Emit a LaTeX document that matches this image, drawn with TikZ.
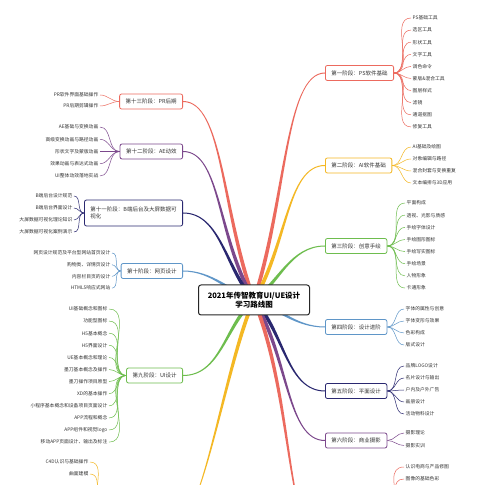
\documentclass[tikz,border=0pt]{standalone}
\usepackage{fontspec}
\setmainfont{Noto Sans CJK SC}
\usepackage{tikz}
\usetikzlibrary{backgrounds}
\definecolor{lxred}{RGB}{236,106,94}
\definecolor{lxyellow}{RGB}{244,184,36}
\definecolor{lxgreen}{RGB}{110,189,78}
\definecolor{lxblue}{RGB}{95,150,200}
\definecolor{lxnavy}{RGB}{42,40,112}
\definecolor{lxpurple}{RGB}{124,72,140}
\tikzset{
  stage/.style={draw, line width=0.8pt, rounded corners=2pt, fill=white, text=black!80,
    font=\fontsize{5.5}{6.8}\selectfont, inner xsep=6pt, minimum height=15pt},
  ritem/.style={anchor=west, inner sep=1.5pt, text=black!80, font=\fontsize{4.8}{5.2}\selectfont},
  litem/.style={ritem, anchor=east},
  sub/.style={line width=0.5pt}
}
% tapered main branch: colour, out angle, out distance, target, in angle, in distance
\newcommand{\mainline}[6]{%
  \fill[#1] ([shift={(#2+90:1.9pt)}]ctr.center)
    to[out=#2, in=#5, out distance=#3, in distance=#6] ([shift={(#5-90:0.5pt)}]#4)
    -- ([shift={(#5+90:0.5pt)}]#4)
    to[out=#5, in=#2, out distance=#6, in distance=#3] ([shift={(#2-90:1.9pt)}]ctr.center) -- cycle;}

\begin{document}
\begin{tikzpicture}[x=1pt, y=1pt]
\useasboundingbox (0,0) rectangle (500,484);
\clip (0,0) rectangle (500,484);

% centre topic
\node[draw=black!85, line width=1pt, rounded corners=2.5pt, fill=white, minimum width=111pt,
  minimum height=30pt, align=center, font=\fontsize{7.5}{9.5}\selectfont\bfseries] (ctr) at (254,184)
  {2021年传智教育UI/UE设计\\学习路线图};

% right stages
\node[stage, draw=lxred, anchor=west] (s1) at (325,411) {第一阶段：PS软件基础};
\node[stage, draw=lxyellow, anchor=west] (s2) at (325,318.5) {第二阶段：AI软件基础};
\node[stage, draw=lxgreen, anchor=west] (s3) at (325,238) {第三阶段：创意手绘};
\node[stage, draw=lxblue, anchor=west] (s4) at (325,157) {第四阶段：设计进阶};
\node[stage, draw=lxnavy, anchor=west] (s5) at (325,93) {第五阶段：平面设计};
\node[stage, draw=lxpurple, anchor=west] (s6) at (325,43.5) {第六阶段：商业摄影};
\coordinate (s7w) at (325,-61);
\coordinate (s7e) at (394,-61);

% left stages
\node[stage, draw=lxred, anchor=east] (s13) at (183,382.5) {第十三阶段：PR后期};
\node[stage, draw=lxpurple, anchor=east] (s12) at (183,332.5) {第十二阶段：AE动效};
\node[stage, draw=lxnavy, anchor=east, align=left, minimum height=26pt] (s11) at (183,271)
  {第十一阶段：B端后台及大屏数据可\\视化};
\node[stage, draw=lxblue, anchor=east] (s10) at (183,213) {第十阶段：网页设计};
\node[stage, draw=lxgreen, anchor=east] (s9) at (183,108.5) {第九阶段：UI设计};
\coordinate (s8e) at (183,-30);
\coordinate (s8w) at (104,-30);

% main branches
\begin{scope}[on background layer]
\fill[white] (0,0) rectangle (500,484);
\mainline{lxred}{72}{105pt}{s1.west}{180}{40pt}
\mainline{lxyellow}{59}{65pt}{s2.west}{180}{38pt}
\mainline{lxgreen}{34}{30pt}{s3.west}{180}{35pt}
\mainline{lxblue}{-18}{25pt}{s4.west}{180}{30pt}
\mainline{lxnavy}{-47}{45pt}{s5.west}{180}{38pt}
\mainline{lxpurple}{-59}{68pt}{s6.west}{180}{38pt}
\mainline{lxred}{-68}{110pt}{s7w}{180}{40pt}
\mainline{lxred}{110}{95pt}{s13.east}{0}{40pt}
\mainline{lxpurple}{121}{72pt}{s12.east}{0}{38pt}
\mainline{lxnavy}{133}{42pt}{s11.east}{0}{38pt}
\mainline{lxblue}{163}{25pt}{s10.east}{0}{30pt}
\mainline{lxgreen}{-139}{38pt}{s9.east}{0}{38pt}
\mainline{lxyellow}{-115}{60pt}{s8e}{0}{20pt}
\end{scope}

% right items
\foreach \lbl [count=\k] in {PS基础工具,选区工具,形状工具,文字工具,调色命令,蒙版\&混合工具,图层样式,滤镜,通道抠图,修复工具}{
  \node[ritem] (s1-\k) at (411,{478.1-12.1*\k}) {\lbl};
  \draw[sub, lxred] (s1.east) to[out=0,in=180] (s1-\k.west);
}
\foreach \lbl [count=\k] in {AI基础及绘图,对象编辑与路径,混合封套与变换重复,文本编排与3D应用}{
  \node[ritem] (s2-\k) at (411,{349-12*\k}) {\lbl};
  \draw[sub, lxyellow] (s2.east) to[out=0,in=180] (s2-\k.west);
}
\foreach \lbl [count=\k] in {平面构成,透视、光影与质感,手绘字体设计,手绘图形图标,手绘写实图标,手绘场景,人物形象,卡通形象}{
  \node[ritem] (s3-\k) at (405,{293.1-12.14*\k}) {\lbl};
  \draw[sub, lxgreen] (s3.east) to[out=0,in=180] (s3-\k.west);
}
\foreach \lbl [count=\k] in {字体的属性与创意,字体变形与效果,色彩构成,版式设计}{
  \node[ritem] (s4-\k) at (404,{187-12*\k}) {\lbl};
  \draw[sub, lxblue] (s4.east) to[out=0,in=180] (s4-\k.west);
}
\foreach \lbl [count=\k] in {品牌LOGO设计,名片设计与输出,户内及户外广告,画册设计,活动物料设计}{
  \node[ritem] (s5-\k) at (404,{130-12*\k}) {\lbl};
  \draw[sub, lxnavy] (s5.east) to[out=0,in=180] (s5-\k.west);
}
\foreach \lbl [count=\k] in {摄影理论,摄影实训}{
  \node[ritem] (s6-\k) at (404,{63.5-12.5*\k}) {\lbl};
  \draw[sub, lxpurple] (s6.east) to[out=0,in=180] (s6-\k.west);
}
\foreach \lbl [count=\k] in {认识电商与产品修图,图像的基础色彩}{
  \node[ritem] (s7-\k) at (404,{29-12*\k}) {\lbl};
  \draw[sub, lxred] (s7e) to[out=0,in=180] (s7-\k.west);
}

% left items
\foreach \lbl [count=\k] in {PR软件界面基础操作,PR后期剪辑操作}{
  \node[litem] (s13-\k) at (100,{400-11*\k}) {\lbl};
  \draw[sub, lxred] (s13.west) to[out=180,in=0] (s13-\k.east);
}
\foreach \lbl [count=\k] in {AE基础与变换动画,高级变换动画与路径动画,形状文字及蒙版动画,效果动画与表达式动画,UI整体动效落地实战}{
  \node[litem] (s12-\k) at (100,{369.1-12.2*\k}) {\lbl};
  \draw[sub, lxpurple] (s12.west) to[out=180,in=0] (s12-\k.east);
}
\foreach \lbl [count=\k] in {B端后台设计规范,B端后台界面设计,大屏数据可视化理论知识,大屏数据可视化案例演示}{
  \node[litem] (s11-\k) at (74,{300-12*\k}) {\lbl};
  \draw[sub, lxnavy] (s11.west) to[out=180,in=0] (s11-\k.east);
}
\foreach \lbl [count=\k] in {网页设计规范及平台型网站首页设计,购物类、详情页设计,内容栏目页的设计,HTML5响应式网站}{
  \node[litem] (s10-\k) at (112,{242.7-11.7*\k}) {\lbl};
  \draw[sub, lxblue] (s10.west) to[out=180,in=0] (s10-\k.east);
}
\foreach \lbl [count=\k] in {UI基础概念和图标,功能型图标,H5基本概念,H5界面设计,UE基本概念和理论,墨刀基本概念及操作,墨刀操作项目原型,XD的基本操作,小程序基本概念和设备项目页面设计,APP流程和概念,APP组件和视觉logo,移动APP页面设计、输出及标注}{
  \node[litem] (s9-\k) at (109,{187.1-12.1*\k}) {\lbl};
  \draw[sub, lxgreen] (s9.west) to[out=180,in=0] (s9-\k.east);
}
\foreach \lbl [count=\k] in {C4D认识与基础操作,曲面建模}{
  \node[litem] (s8-\k) at (90,{34-12*\k}) {\lbl};
  \draw[sub, lxyellow] (s8w) to[out=180,in=0] (s8-\k.east);
}
\end{tikzpicture}
\end{document}
